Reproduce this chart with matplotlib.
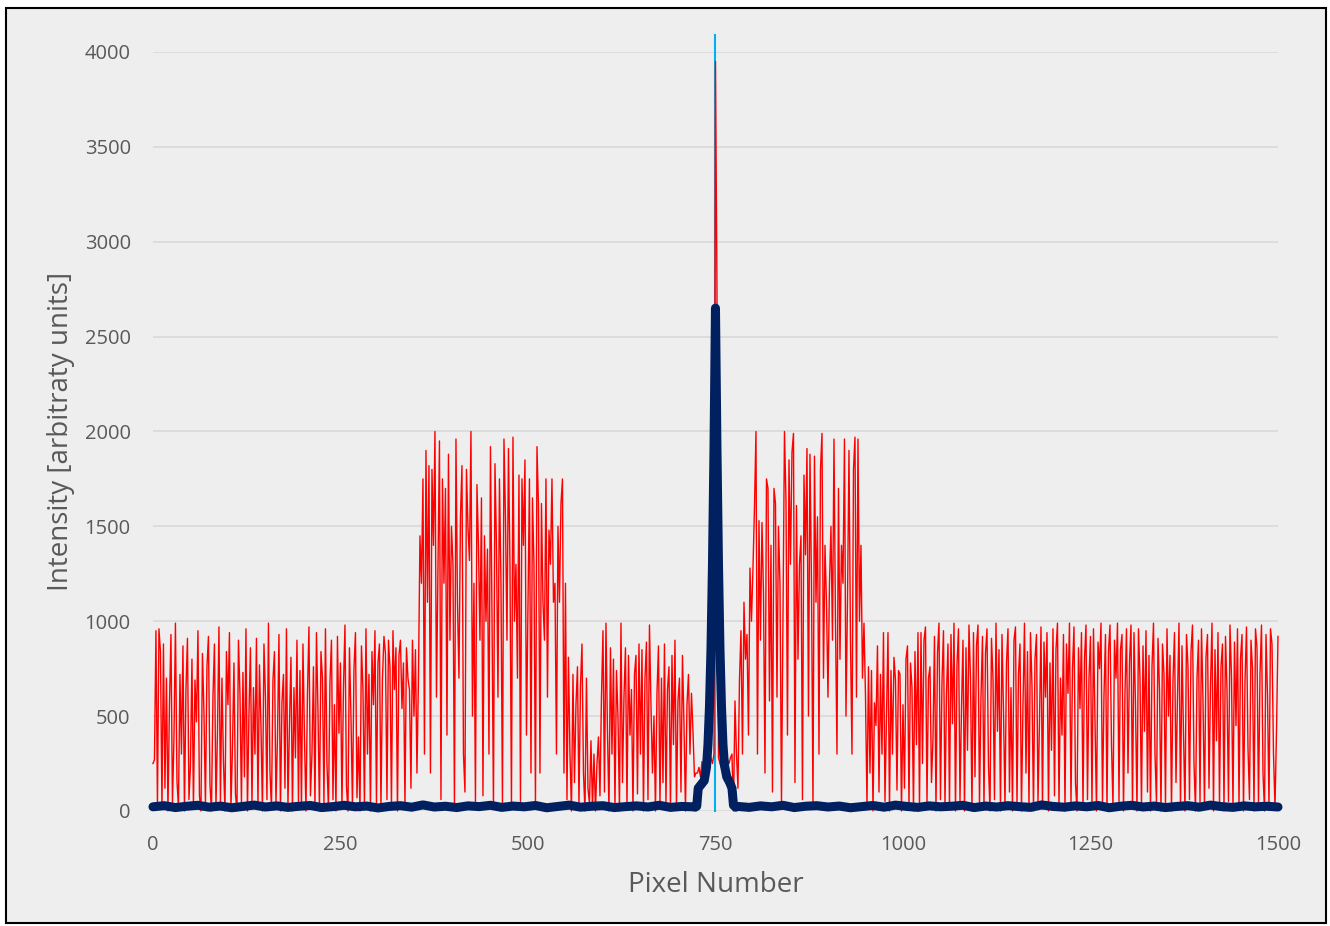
import numpy as np
import matplotlib.pyplot as plt
from matplotlib.patches import Rectangle

plt.rcParams['font.family'] = ['Open Sans', 'DejaVu Sans']

# measured signal (red), one value every 2 pixels, split by region
red_noise_left = [
    250, 270, 950, 30, 960, 840, 10, 880, 120, 700,
    0, 560, 930, 40, 380, 990, 160, 20, 720, 300,
    870, 0, 640, 910, 60, 240, 800, 10, 690, 470,
    950, 80, 0, 830, 520, 30, 760, 920, 140, 0,
    600, 880, 20, 410, 970, 50, 700, 260, 0, 840,
    560, 940, 15, 330, 780, 90, 0, 900, 620, 40,
    730, 180, 960, 0, 510, 860, 30, 650, 300, 910,
    20, 770, 450, 0, 880, 600, 60, 990, 210, 10,
    690, 840, 40, 380, 930, 0, 570, 720, 120, 960,
    30, 450, 810, 0, 650, 280, 900, 50, 740, 10,
    880, 390, 0, 620, 970, 80, 300, 760, 20, 940,
    530, 0, 840, 700, 40, 960, 250, 10, 680, 900,
    60, 560, 0, 920, 410, 780, 20, 650, 980, 130,
    0, 860, 500, 30, 750, 940, 70, 390, 0, 870,
    640, 20, 960, 300, 720, 0, 840, 560, 950, 40,
    780, 880, 10, 700, 920, 830, 60, 900, 760, 20,
    950, 640, 860, 0, 820, 900, 540, 780, 30, 860,
    700,
]
red_ramp_left = [640, 120, 900, 500, 850, 200, 700]
red_high_left = [
    1450, 1200, 1750, 300, 1900, 1100, 1820, 200, 1800, 1400,
    2000, 600, 1300, 1950, 60, 1750, 1200, 1700, 400, 1880,
    900, 1500, 1300, 20, 1960, 1100, 700, 1550, 1820, 300,
    100, 1800, 1500, 1320, 2000, 500, 1200, 30, 1720, 1400,
    900, 1650, 80, 1450, 1000, 1380, 300, 1920, 1050, 10,
    1830, 1400, 600, 1750, 1200, 40, 1960, 1550, 900, 1910,
    1300, 20, 1970, 1000, 1300, 700, 1770, 50, 1750, 1400,
    1850, 400, 1100, 1750, 200, 1650, 1300, 30, 1920, 1610,
    200, 1620, 1100, 900, 1750, 600, 1480, 1300, 1750, 1100,
    1200, 300, 1500, 1100, 1620, 1750, 200, 1200,
]
red_after_high = [60, 810, 300, 0, 720, 150, 560, 760, 30, 660, 880, 200, 0, 700, 120, 40]
red_dip = [370, 20, 300, 0, 250, 390, 80, 600]
red_noise_mid = [
    950, 100, 990, 420, 0, 860, 300, 800, 20, 740,
    500, 0, 990, 150, 600, 860, 20, 820, 400, 640,
    0, 720, 820, 90, 880, 300, 850, 0, 700, 890,
    60, 980, 560, 200, 500, 0, 620, 870, 30, 700,
    150, 880, 40, 640, 760, 0, 820, 350, 900, 20,
    580, 700, 100, 820, 460, 0, 560, 720, 300, 620,
    420, 180, 200,
]
red_before_peak = [200, 230, 180, 260, 220, 250, 240, 300, 260, 280, 250, 300]
red_peak = [3950]
red_after_peak = [2750, 280, 250, 230, 260, 240, 300, 270, 250, 280, 300]
red_ramp_right = [0, 580, 300, 120, 690, 950, 300, 1100, 800, 930, 400, 1280, 1000]
red_high_right = [
    1280, 1600, 2000, 300, 1530, 900, 1520, 1150, 200, 1750,
    1700, 580, 1400, 100, 1700, 1620, 600, 1500, 1200, 40,
    1000, 2000, 1640, 400, 1850, 1300, 1890, 1990, 150, 1610,
    800, 1300, 1450, 60, 1770, 1350, 1910, 500, 1880, 1200,
    20, 1870, 1100, 1550, 300, 1800, 1990, 700, 1400, 1100,
    600, 1200, 1500, 900, 1960, 1000, 300, 1700, 800, 1400,
    1200, 1960, 500, 1100, 1900, 900, 300, 1800, 1970, 600,
    1960, 1000, 1400, 700,
]
red_noise_right = [
    990, 610, 30, 760, 200, 740, 0, 570, 450, 870,
    100, 720, 300, 940, 50, 500, 940, 0, 740, 300,
    810, 690, 110, 740, 720, 0, 560, 120, 800, 870,
    20, 780, 650, 0, 840, 350, 940, 10, 940, 250,
    900, 970, 40, 700, 760, 150, 380, 920, 0, 830,
    990, 60, 680, 950, 20, 620, 880, 10, 930, 460,
    990, 0, 770, 960, 50, 540, 900, 0, 860, 320,
    980, 700, 0, 940, 180, 870, 980, 30, 600, 920,
    10, 830, 960, 240, 0, 910, 700, 60, 990, 420,
    850, 0, 930, 530, 20, 780, 960, 100, 650, 0,
    900, 970, 30, 720, 880, 0, 560, 990, 200, 840,
    20, 940, 660, 0, 800, 930, 50, 470, 970, 10,
    890, 600, 940, 0, 780, 320, 960, 80, 850, 990,
    20, 700, 400, 930, 0, 880, 620, 990, 30, 750,
    970, 150, 0, 860, 540, 940, 10, 800, 980, 60,
    700, 920, 20, 960, 480, 0, 890, 750, 990, 40,
    610, 930, 0, 840, 980, 350, 20, 900, 700, 990,
    50, 850, 930, 0, 620, 960, 200, 780, 980, 10,
    940, 560, 0, 960, 700, 20, 870, 420, 950, 100,
    820, 0, 760, 990, 300, 40, 910, 640, 0, 880,
    720, 30, 960, 500, 820, 0, 690, 940, 150, 600,
    990, 10, 870, 410, 0, 930, 760, 60, 840, 980,
    250, 0, 700, 900, 40, 960, 580, 20, 810, 930,
    120, 660, 990, 0, 850, 370, 940, 30, 760, 880,
    0, 920, 640, 50, 980, 710, 10, 890, 450, 960,
    20, 800, 930, 0, 680, 970, 330, 60, 900, 750,
    0, 960, 860, 40, 720, 980, 200, 0, 930, 610,
    20, 960, 880, 300, 20, 420, 920,
]

# first pixel number of each red region
red_segments = [
    (0, red_noise_left), (342, red_ramp_left), (356, red_high_left),
    (552, red_after_high), (584, red_dip), (600, red_noise_mid),
    (726, red_before_peak), (750, red_peak), (752, red_after_peak),
    (774, red_ramp_right), (800, red_high_right), (948, red_noise_right),
]

# fitted profile (dark blue)
blue_left = [
    22, 28, 18, 25, 30, 20, 26, 17, 24, 31,
    21, 27, 19, 25, 29, 18, 23, 30, 22, 26,
    16, 24, 28, 20, 32, 21, 25, 18, 27, 23,
    30, 19, 26, 22, 29, 17, 24, 31, 20, 25,
    28, 18, 23, 27, 21, 30, 19, 24, 22,
]
blue_peak_pixels = [723, 725, 727, 731, 735, 738, 740, 742, 744, 746, 748, 750,
                    752, 754, 756, 758, 760, 762, 765, 769, 772, 774, 777]
blue_peak_values = [20, 25, 120, 140, 160, 230, 350, 550, 850, 1300, 1900, 2650,
                    1900, 1300, 850, 550, 350, 240, 180, 150, 120, 30, 20]
blue_right = [
    24, 19, 27, 22, 30, 18, 25, 28, 21, 26,
    17, 23, 29, 20, 31, 24, 19, 27, 22, 25,
    30, 18, 26, 21, 28, 23, 19, 32, 24, 20,
    27, 22, 29, 17, 25, 30, 21, 26, 18, 24,
    28, 20, 31, 23, 19, 27, 22, 25, 21,
]

# centre marker (cyan)
centre_pixel = 750
centre_top = 4090

red_x = np.concatenate([s + 2 * np.arange(len(v)) for s, v in red_segments])
red_y = np.concatenate([v for s, v in red_segments])

blue_x = np.concatenate([np.arange(len(blue_left)) * 15, blue_peak_pixels,
                         780 + np.arange(len(blue_right)) * 15])
blue_y = np.concatenate([blue_left, blue_peak_values, blue_right])

fig = plt.figure(figsize=(13.3, 9.26), dpi=100)
fig.patch.set_facecolor('white')
frame = Rectangle((0.0045, 0.003), 0.9925, 0.988, transform=fig.transFigure,
                  facecolor='#EEEEEE', edgecolor='black', linewidth=1.5, zorder=-10)
fig.patches.append(frame)

ax = fig.add_axes([0.115, 0.1242, 0.8459, 0.8197])
ax.set_facecolor('none')
ax.set_zorder(1)

ax.plot([centre_pixel, centre_pixel], [0, centre_top], color='#00B0F0', lw=1.5,
        zorder=2, clip_on=False)
ax.plot(red_x, red_y, color='#FF0000', lw=1.0, zorder=3, clip_on=False)
ax.plot(blue_x, blue_y, color='#002060', lw=6.5, zorder=4, clip_on=False,
        solid_capstyle='round', solid_joinstyle='round')

ax.set_xlim(0, 1500)
ax.set_ylim(0, 4000)
ax.set_xticks(np.arange(0, 1501, 250))
ax.set_yticks(np.arange(0, 4001, 500))
ax.grid(axis='y', color='#D9D9D9', lw=1.2, zorder=0)
ax.set_axisbelow(True)
for sp in ax.spines.values():
    sp.set_visible(False)
ax.tick_params(length=0, labelsize=14.5, labelcolor='#595959')
ax.tick_params(axis='x', pad=17)
ax.tick_params(axis='y', pad=16)

ax.set_xlabel('Pixel Number', fontsize=20, color='#595959', labelpad=12)
ax.set_ylabel('Intensity [arbitraty units]', fontsize=20, color='#595959', labelpad=7)

fig.savefig('out.png', dpi=100, facecolor=fig.get_facecolor())
